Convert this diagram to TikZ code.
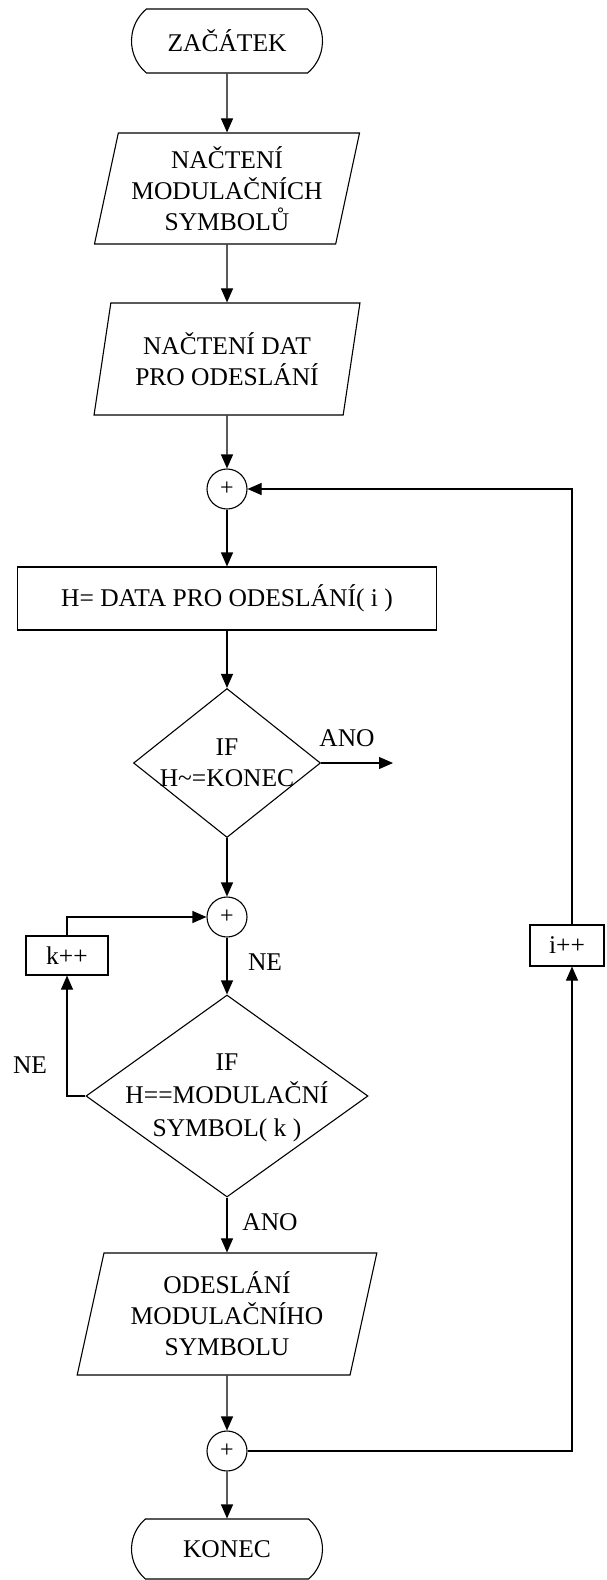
\documentclass[tikz,border=0pt]{standalone}
\usepackage{fontspec}
\setmainfont{Liberation Serif}
\usetikzlibrary{shapes.geometric,shapes.misc,arrows.meta}
\begin{document}
\begin{tikzpicture}[x=1pt,y=-1pt,line width=1.1pt,
    >={Triangle[length=14pt,width=12pt]},
    font=\fontsize{25.5}{31}\selectfont,
    term/.style={shape=rounded rectangle,rounded rectangle arc length=100,draw,
      minimum width=191pt,minimum height=64pt,inner sep=0pt},
    io/.style={shape=trapezium,trapezium left angle=76,trapezium right angle=104,
      trapezium stretches=true,draw,align=center,inner sep=0pt},
    proc/.style={shape=rectangle,draw,inner sep=0pt},
    dec/.style={shape=diamond,draw,inner sep=0pt},
    junction/.style={shape=circle,draw,minimum size=40pt,inner sep=0pt,
      font=\fontsize{24}{24}\selectfont}]
    \useasboundingbox (0,0) rectangle (606,1580);
    \path (227,41) node (start) [term] {ZAČÁTEK}
    (227,188.5) node (read1) [io,minimum width=266pt,minimum height=111pt] {NAČTENÍ\\MODULAČNÍCH\\SYMBOLŮ}
    (227,359) node (read2) [io,minimum width=266pt,minimum height=112pt] {NAČTENÍ DAT\\PRO ODESLÁNÍ}
    (227,489) node (j1) [junction] {+}
    (227,598.5) node (hbox) [proc,minimum width=419pt,minimum height=63pt] {H= DATA PRO ODESLÁNÍ( i )}
    (227,763) node (d1) [dec,minimum width=187pt,minimum height=149pt] {}
    (227,763) node (d1txt) [align=center] {IF\\H\textasciitilde=KONEC}
    (227,917) node (j2) [junction] {+}
    (67,955.5) node (kplus) [proc,minimum width=82pt,minimum height=39pt] {k++}
    (227,1096) node (d2) [dec,minimum width=282pt,minimum height=202pt] {}
    (227,1098) node (d2txt) [align=center,font=\fontsize{25.5}{33}\selectfont] {IF\\H==MODULAČNÍ\\SYMBOL( k )}
    (227,1314) node (write) [io,minimum width=300pt,minimum height=122pt] {ODESLÁNÍ\\MODULAČNÍHO\\SYMBOLU}
    (227,1451) node (j3) [junction] {+}
    (227,1549) node (stop) [term,minimum height=60pt] {KONEC}
    (567,945.5) node (iplus) [proc,minimum width=74pt,minimum height=41pt] {i++};
    \path (347,738) node (ano1) {ANO};
    \path (265,962) node (ne1) {NE};
    \path (30,1065) node (ne2) {NE};
    \path (270,1222) node (ano2) {ANO};
    \coordinate (out) at (393,763);
    \draw [->] (start) -- (read1);
    \draw [->] (read1) -- (read2);
    \draw [->] (read2) -- (j1);
    \draw [->] (j1) -- (hbox);
    \draw [->] (hbox) -- (d1);
    \draw [->] (d1) -- (out);
    \draw [->] (d1) -- (j2);
    \draw [->] (j2) -- (d2);
    \draw [->] (d2) -- (write);
    \draw [->] (write) -- (j3);
    \draw [->] (j3) -- (stop);
    \draw [->] (d2.west) -| (kplus.south);
    \draw [->] (kplus.north) |- (j2);
    \draw [->] (j3) -| ([xshift=5pt]iplus.south);
    \draw [->] ([xshift=5pt]iplus.north) |- (j1);
\end{tikzpicture}
\end{document}
